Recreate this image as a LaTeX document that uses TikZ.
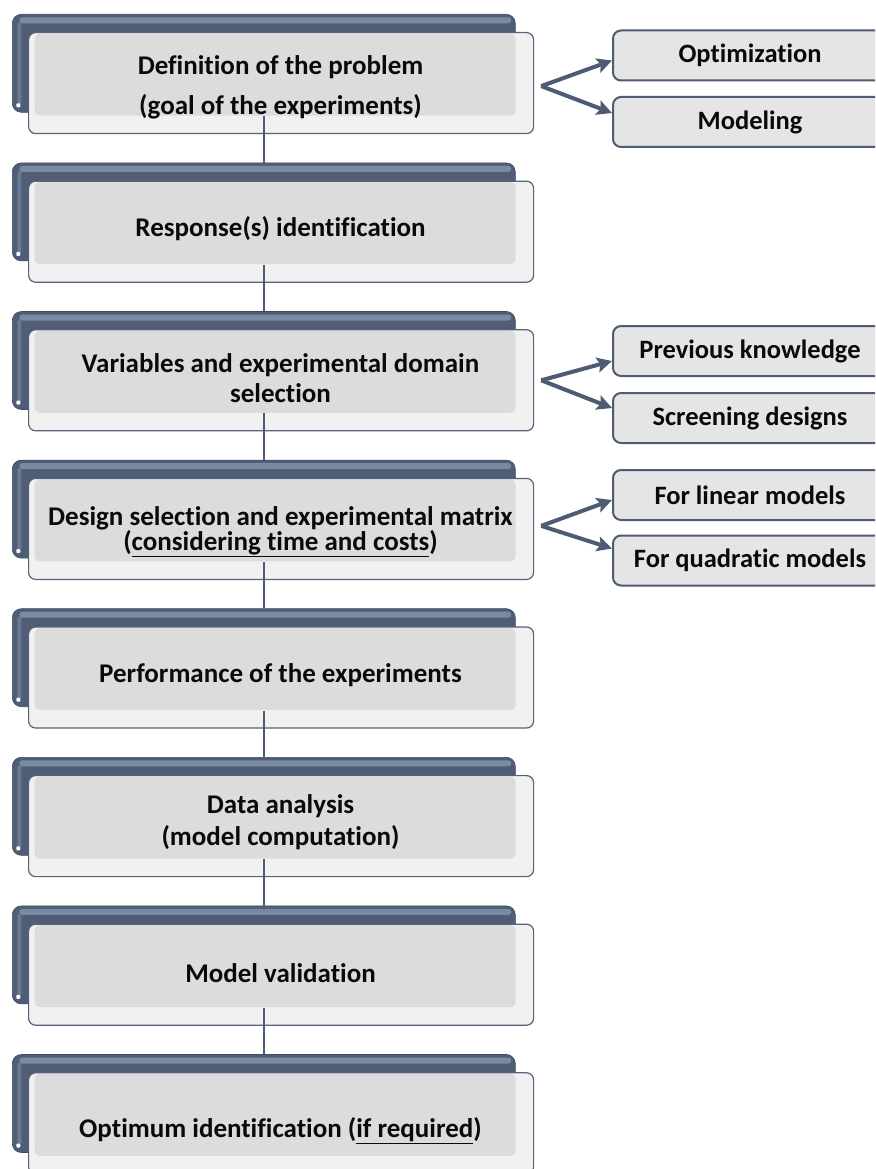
\documentclass[tikz,border=0pt]{standalone}
\usepackage{fontspec}
\setmainfont{Carlito}[Ligatures=NoCommon]
\usetikzlibrary{calc,arrows.meta}

\definecolor{tabcol}{HTML}{4F5E76}
\definecolor{tabhi}{HTML}{8A9AB3}
\definecolor{framecol}{HTML}{56637A}
\definecolor{innercol}{HTML}{DCDCDC}
\definecolor{outercol}{HTML}{F1F1F1}
\definecolor{sidefill}{HTML}{E5E5E5}
\definecolor{linkcol}{HTML}{4E5C73}
\definecolor{inkcol}{HTML}{0A0A0A}

\tikzset{
  tabshape/.style={rectangle, rounded corners=9pt, minimum width=503pt,
    minimum height=98pt, inner sep=0pt, fill=tabcol, draw=tabcol!80!black, line width=0.6pt,
    path picture={
      \fill[tabhi, opacity=0.75, rounded corners=3pt]
        ([xshift=7pt,yshift=-3pt]path picture bounding box.north west) rectangle
        ([xshift=-4pt,yshift=-9pt]path picture bounding box.north east);
      \fill[tabhi, opacity=0.45, rounded corners=2pt]
        ([xshift=5pt,yshift=-8pt]path picture bounding box.north west) rectangle
        ([xshift=9pt,yshift=8pt]path picture bounding box.south west);
      \fill[white, rounded corners=1pt]
        ([xshift=4pt,yshift=5pt]path picture bounding box.south west) rectangle
        ([xshift=8pt,yshift=9pt]path picture bounding box.south west);
    }},
  frontshape/.style={rectangle, rounded corners=7pt, minimum width=505pt,
    minimum height=101pt, inner sep=0pt, fill=outercol, draw=framecol, line width=1.2pt,
    path picture={
      \fill[innercol, rounded corners=5pt]
        ([xshift=6pt,yshift=-1pt]path picture bounding box.north west) rectangle
        ([xshift=-18pt,yshift=18pt]path picture bounding box.south east);
    }},
  steptext/.style={align=center, text=inkcol, inner sep=0pt},
  sidebox/.style={rectangle, rounded corners=8pt, minimum width=274pt,
    minimum height=50pt, inner sep=0pt, fill=sidefill, draw=linkcol, line width=2pt,
    text=inkcol, font=\fontsize{26.5}{28}\selectfont\bfseries},
  fork/.style={draw=linkcol, line width=4pt,
    -{Stealth[length=15pt,width=15pt,inset=3pt]}},
  link/.style={draw=linkcol, line width=1.6pt}
}

% #1 name, #2 top of the tab, #3 y of the caption, #4 line spacing, #5 caption
\newcommand\flowstep[5]{%
  \node[tabshape, anchor=north west] (t#1) at (12,#2) {};
  \node[frontshape, anchor=north west] (f#1) at (28,#2+18) {};
  \node[steptext, font=\fontsize{27}{#4}\selectfont\bfseries] (c#1) at (280.5,#3) {#5};
}

\begin{document}
\begin{tikzpicture}[x=1pt,y=-1pt]
  \clip (0,0) rectangle (875,1169);
  \fill[white] (0,0) rectangle (875,1169);

  \flowstep{1}{14}{87}{40pt}{Definition of the problem\\(goal of the experiments)}
  \flowstep{2}{162.6}{229}{25pt}{Response(s) identification}
  \flowstep{3}{311.2}{378}{30pt}{Variables and experimental domain\\selection}
  \flowstep{4}{459.8}{532}{25pt}{Design selection and experimental matrix\\(\underline{considering time and costs})}
  \flowstep{5}{608.4}{675}{25pt}{Performance of the experiments}
  \flowstep{6}{757}{822}{32pt}{Data analysis\\(model computation)}
  \flowstep{7}{905.6}{973}{25pt}{Model validation}
  \flowstep{8}{1054.2}{1131}{25pt}{Optimum identification (\underline{if required})}

  % vertical links between consecutive steps
  \foreach \a/\b in {1/2,2/3,3/4,4/5,5/6,6/7,7/8}{
    \draw[link] ($(t\a.center |- f\a.south)+(0,-18)$) -- (t\b.north);
  }

  % side boxes
  \node[sidebox] (opt) at (750,55.5) {Optimization};
  \node[sidebox] (mod) at (750,122) {Modeling};
  \node[sidebox] (prev) at (750,351) {Previous knowledge};
  \node[sidebox] (scr) at (750,418) {Screening designs};
  \node[sidebox] (lin) at (750,495) {For linear models};
  \node[sidebox] (quad) at (750,560.5) {For quadratic models};

  % forks
  \coordinate (k1) at ($(f1.east)+(7,3)$);
  \coordinate (k3) at ($(f3.east)+(7,0)$);
  \coordinate (k4) at ($(f4.east)+(7,-3)$);
  \draw[fork] (k1) -- ($(opt.west)+(0,5)$);
  \draw[fork] (k1) -- ($(mod.west)+(0,-9)$);
  \draw[fork] (k3) -- ($(prev.west)+(0,10)$);
  \draw[fork] (k3) -- ($(scr.west)+(0,-10)$);
  \draw[fork] (k4) -- ($(lin.west)+(0,5)$);
  \draw[fork] (k4) -- ($(quad.west)+(0,-12)$);
\end{tikzpicture}
\end{document}
